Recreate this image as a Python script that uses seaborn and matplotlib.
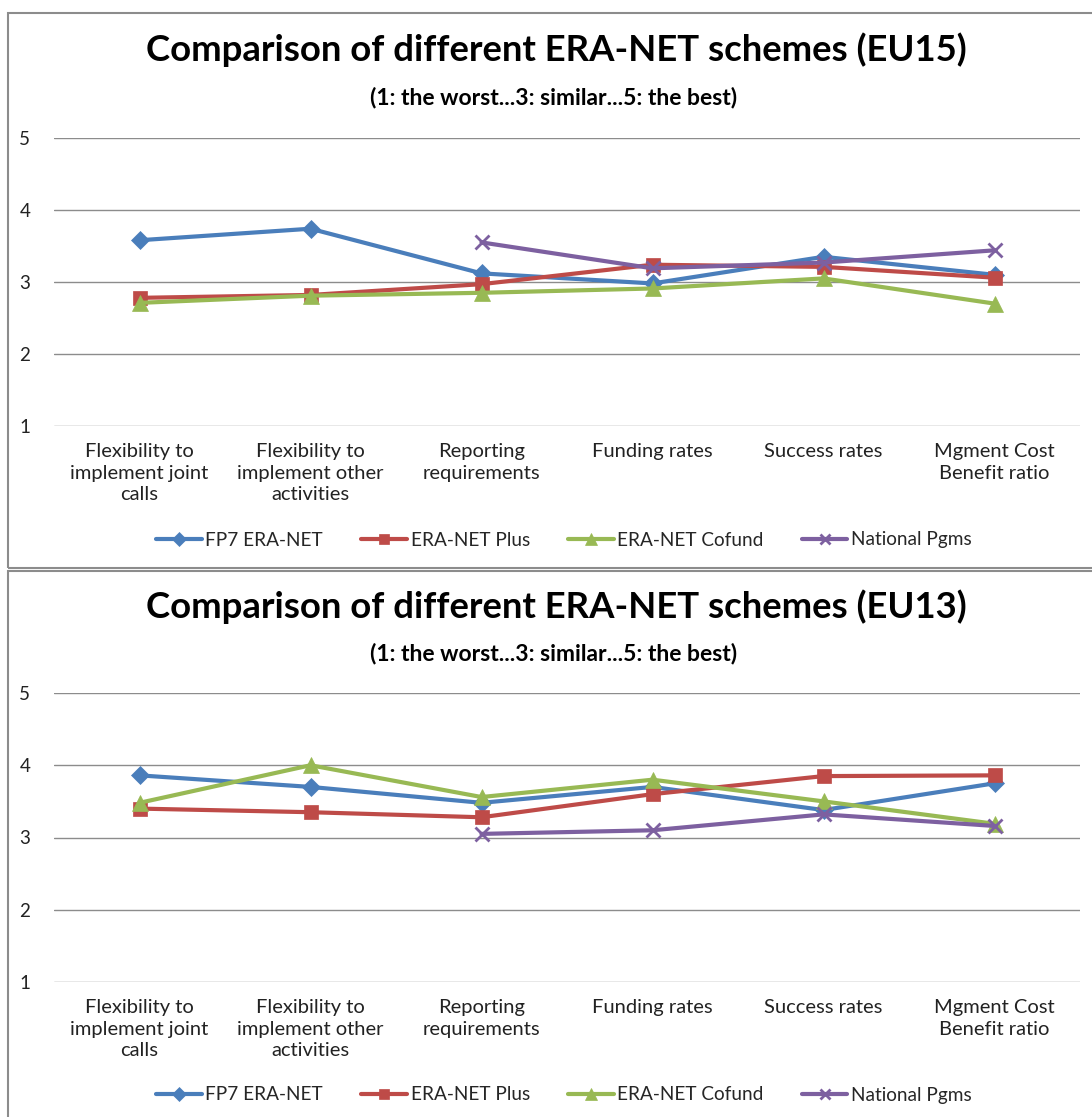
import numpy as np
import matplotlib
matplotlib.use("Agg")
import matplotlib.pyplot as plt
import seaborn as sns
from matplotlib.patches import Rectangle

# Data
categories = ["Flexibility to\nimplement joint\ncalls",
              "Flexibility to\nimplement other\nactivities",
              "Reporting\nrequirements",
              "Funding rates",
              "Success rates",
              "Mgment Cost\nBenefit ratio"]
series_names = ["FP7 ERA-NET", "ERA-NET Plus", "ERA-NET Cofund", "National Pgms"]

eu15_fp7 = [3.58, 3.74, 3.12, 2.98, 3.35, 3.10]
eu15_plus = [2.78, 2.82, 2.97, 3.24, 3.21, 3.06]
eu15_cofund = [2.71, 2.81, 2.85, 2.91, 3.05, 2.70]
eu15_national = [np.nan, np.nan, 3.55, 3.19, 3.27, 3.44]

eu13_fp7 = [3.86, 3.70, 3.48, 3.70, 3.38, 3.75]
eu13_plus = [3.40, 3.35, 3.28, 3.60, 3.85, 3.86]
eu13_cofund = [3.48, 4.00, 3.56, 3.80, 3.50, 3.19]
eu13_national = [np.nan, np.nan, 3.05, 3.10, 3.32, 3.16]

titles = ["Comparison of different ERA-NET schemes (EU15)",
          "Comparison of different ERA-NET schemes (EU13)"]
subtitle = "(1: the worst...3: similar...5: the best)"
y_ticks = [1, 2, 3, 4, 5]

colors = ["#4A7EBB", "#BE4B48", "#98B954", "#7D60A0"]
markers = ["D", "s", "^", "x"]
msizes = [9, 10, 11, 10]

sns.set_style("white")
plt.rcParams["font.family"] = ["Lato", "DejaVu Sans"]

W, H = 1092, 1117
fig = plt.figure(figsize=(W / 100, H / 100), dpi=100)


def fx(px):
    return px / W


def fy(py):
    return 1 - py / H


# chart boxes
for (x0, y0, y1) in [(8, 13, 568), (8, 571, 1130)]:
    fig.patches.append(Rectangle((fx(x0), fy(y1)), fx(1100 - x0), fy(y0) - fy(y1),
                                 transform=fig.transFigure, fill=False,
                                 edgecolor="#8C8C8C", lw=1.5))

panels = [
    dict(data=[eu15_fp7, eu15_plus, eu15_cofund, eu15_national],
         top=138, bottom=426, title_y=50, sub_y=97, leg_y=540, title=titles[0]),
    dict(data=[eu13_fp7, eu13_plus, eu13_cofund, eu13_national],
         top=693, bottom=982, title_y=607, sub_y=654, leg_y=1095, title=titles[1]),
]

x_pos = np.arange(len(categories))

for p in panels:
    ax = fig.add_axes([fx(54), fy(p["bottom"]), fx(1080 - 54), fy(p["top"]) - fy(p["bottom"])])
    for vals, name, c, m, ms in zip(p["data"], series_names, colors, markers, msizes):
        sns.lineplot(x=x_pos, y=vals, ax=ax, color=c, lw=3, marker=m,
                     markersize=ms, markeredgecolor=c, markeredgewidth=2 if m == "x" else 0.5,
                     label=name, legend=False)
    ax.set_xlim(-0.5, 5.5)
    ax.set_ylim(1, 5)
    ax.set_yticks(y_ticks)
    ax.set_yticklabels([str(t) for t in y_ticks])
    ax.set_xticks(x_pos)
    ax.set_xticklabels(categories, linespacing=1.35)
    ax.yaxis.grid(True, color="#8C8C8C", lw=1)
    ax.set_axisbelow(True)
    for s in ax.spines.values():
        s.set_visible(False)
    ax.tick_params(axis="y", length=0, pad=17, labelsize=13.5, labelcolor="#222222")
    ax.tick_params(axis="x", length=0, pad=12, labelsize=14.5, labelcolor="#222222")

    fig.text(fx(556), fy(p["title_y"]), p["title"], ha="center", va="center",
             fontsize=26.3, fontweight="bold", color="black")
    fig.text(fx(554), fy(p["sub_y"]), subtitle, ha="center", va="center",
             fontsize=16.5, fontweight="bold", color="black")

    h, l = ax.get_legend_handles_labels()
    fig.legend(h, l, loc="center", bbox_to_anchor=(fx(564), fy(p["leg_y"])), ncol=4,
               frameon=False, fontsize=13.7, handlelength=2.4, columnspacing=2.0,
               handletextpad=0.2, markerscale=0.75)

fig.savefig("out.png", dpi=100)
